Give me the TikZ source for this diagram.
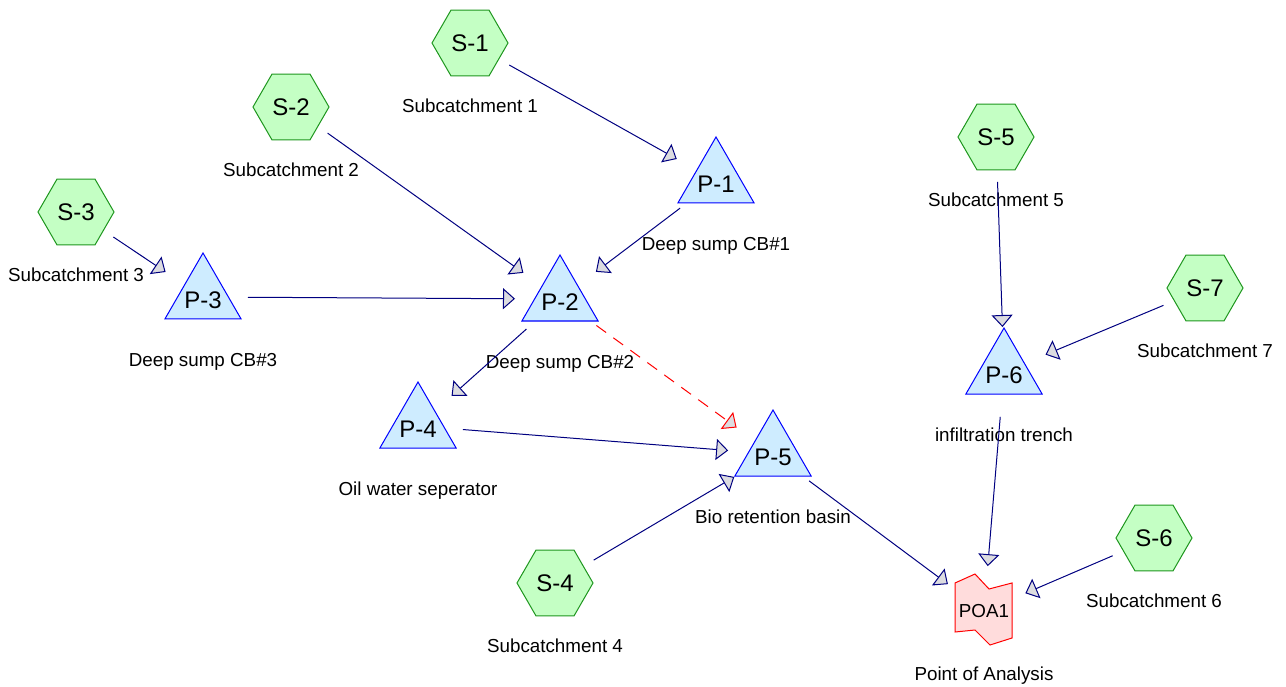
\documentclass[tikz,border=0pt]{standalone}
\usepackage{fontspec}
\setmainfont{Liberation Sans}
\usetikzlibrary{positioning, arrows.meta, shapes.geometric, backgrounds}
\definecolor{subfill}{RGB}{196,255,196}
\definecolor{subline}{RGB}{30,150,30}
\definecolor{pondfill}{RGB}{206,236,255}
\definecolor{pondline}{RGB}{0,0,255}
\definecolor{poafill}{RGB}{255,220,220}
\definecolor{poaline}{RGB}{255,0,0}
\definecolor{linkcol}{RGB}{0,0,128}
\definecolor{tipfill}{RGB}{220,220,224}

\begin{document}
\begin{tikzpicture}[x=1pt, y=-1pt,
    hexa/.style={regular polygon, regular polygon sides=6, minimum size=76pt,
      inner sep=0pt, draw=subline, fill=subfill, line width=1pt,
      font=\fontsize{24}{28}\selectfont},
    pond/.style={regular polygon, regular polygon sides=3, minimum size=88pt,
      inner sep=0pt, draw=pondline, fill=pondfill, line width=1pt,
      label={[inner sep=0pt, yshift=-3pt, font=\fontsize{24}{28}\selectfont]center:#1}},
    lab/.style={inner sep=0pt, text height=13.5pt, text depth=4pt,
      font=\fontsize{18.8}{22}\selectfont},
    link/.style={draw=linkcol, line width=1pt, shorten <=45pt, shorten >=45pt,
      -{Triangle[length=12pt, width=21pt, fill=tipfill]}},
    overflow/.style={link, draw=poaline, dash pattern=on 12pt off 9pt}]
  \useasboundingbox (0,0) rectangle (1286,687);

  % subcatchments
  \node[hexa] (s1) at (470,43) {S-1};
  \node[hexa] (s2) at (291,107) {S-2};
  \node[hexa] (s3) at (76,212) {S-3};
  \node[hexa] (s4) at (555,583) {S-4};
  \node[hexa] (s5) at (996,137) {S-5};
  \node[hexa] (s6) at (1154,538) {S-6};
  \node[hexa] (s7) at (1205,288) {S-7};
  \node[lab, below=56pt of s1.center] (s1l) {Subcatchment 1};
  \node[lab, below=56pt of s2.center] (s2l) {Subcatchment 2};
  \node[lab, below=56pt of s3.center] (s3l) {Subcatchment 3};
  \node[lab, below=56pt of s4.center] (s4l) {Subcatchment 4};
  \node[lab, below=56pt of s5.center] (s5l) {Subcatchment 5};
  \node[lab, below=56pt of s6.center] (s6l) {Subcatchment 6};
  \node[lab, below=56pt of s7.center] (s7l) {Subcatchment 7};

  % ponds
  \node[pond=P-1] (p1) at (716,181) {};
  \node[pond=P-2] (p2) at (560,299) {};
  \node[pond=P-3] (p3) at (203,297) {};
  \node[pond=P-4] (p4) at (418,426) {};
  \node[pond=P-5] (p5) at (773,454) {};
  \node[pond=P-6] (p6) at (1004,372) {};
  \node[lab, below=56pt of p1.center] (p1l) {Deep sump CB\#1};
  \node[lab, below=56pt of p2.center] (p2l) {Deep sump CB\#2};
  \node[lab, below=56pt of p3.center] (p3l) {Deep sump CB\#3};
  \node[lab, below=56pt of p4.center] (p4l) {Oil water seperator};
  \node[lab, below=56pt of p5.center] (p5l) {Bio retention basin};
  \node[lab, below=56pt of p6.center] (p6l) {infiltration trench};

  % point of analysis
  \node[inner sep=0pt, font=\fontsize{18.8}{22}\selectfont] (poa) at (984,611) {POA1};
  \begin{scope}[on background layer, shift={(poa.center)}]
    \filldraw[draw=poaline, fill=poafill, line width=1pt]
      (-29,-28) -- (-9,-37) -- (5,-22) -- (28,-28) -- (28,27)
      -- (6,34) -- (-9,19) -- (-29,21) -- cycle;
  \end{scope}
  \node[lab, below=56pt of poa.center] (poal) {Point of Analysis};

  % routing
  \draw[link] (s1.center) -- (p1.center);
  \draw[link] (s2.center) -- (p2.center);
  \draw[link] (s3.center) -- (p3.center);
  \draw[link] (p3.center) -- (p2.center);
  \draw[link] (p1.center) -- (p2.center);
  \draw[link] (p2.center) -- (p4.center);
  \draw[overflow] (p2.center) -- (p5.center);
  \draw[link] (p4.center) -- (p5.center);
  \draw[link] (s4.center) -- (p5.center);
  \draw[link] (p5.center) -- (poa.center);
  \draw[link] (s5.center) -- (p6.center);
  \draw[link] (s7.center) -- (p6.center);
  \draw[link] (p6.center) -- (poa.center);
  \draw[link] (s6.center) -- (poa.center);
\end{tikzpicture}
\end{document}
